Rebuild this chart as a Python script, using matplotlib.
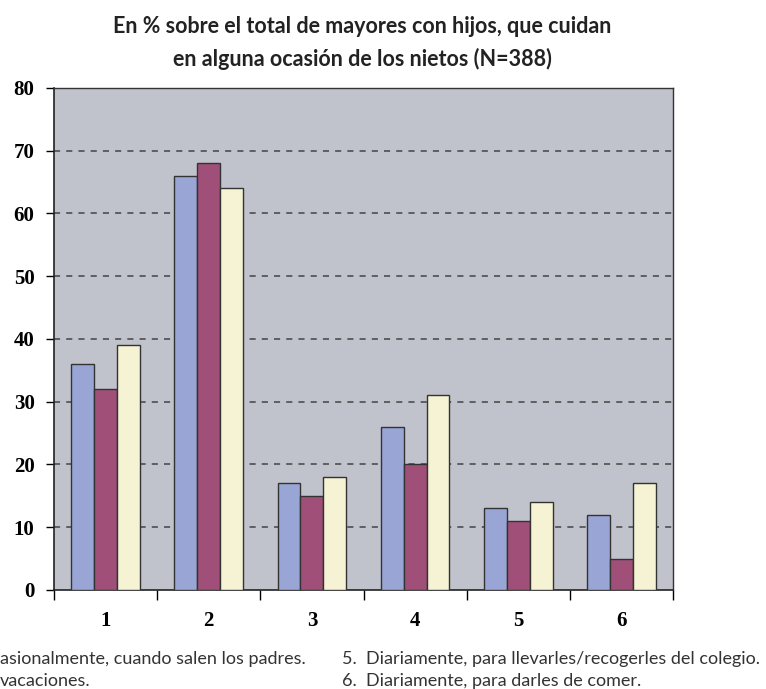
import numpy as np
import matplotlib.pyplot as plt
from matplotlib.ticker import FixedLocator

categories = ['1', '2', '3', '4', '5', '6']
serie_a = [36, 66, 17, 26, 13, 12]
serie_b = [32, 68, 15, 20, 11, 5]
serie_c = [39, 64, 18, 31, 14, 17]
yticks = [0, 10, 20, 30, 40, 50, 60, 70, 80]

title = 'En % sobre el total de mayores con hijos, que cuidan\nen alguna ocasión de los nietos (N=388)'
notes_left = ['asionalmente, cuando salen los padres.', 'vacaciones.']
notes_right = ['5.  Diariamente, para llevarles/recogerles del colegio.',
               '6.  Diariamente, para darles de comer.']

colors = ['#99a5d4', '#a05078', '#f5f3d3']
sans = ['Lato', 'DejaVu Sans']
serif = ['Liberation Serif', 'DejaVu Serif']

fig = plt.figure(figsize=(7.66, 6.89), dpi=100)
ax = fig.add_axes([0.0705, 0.1437, 0.8081, 0.7286])
ax.set_facecolor('#c0c3cb')

x = np.arange(len(categories))
w = 0.222
for i, (vals, col) in enumerate(zip([serie_a, serie_b, serie_c], colors)):
    ax.bar(x + (i - 1) * w, vals, w, color=col, edgecolor='#333333',
           linewidth=1.0, zorder=3)

ax.set_xlim(-0.5, len(categories) - 0.5)
ax.set_ylim(0, 80)
ax.set_yticks(yticks)
ax.set_yticklabels([str(v) for v in yticks], family=serif, weight='bold', fontsize=15)
ax.set_xticks(x)
ax.set_xticklabels(categories, family=serif, weight='bold', fontsize=15)
ax.xaxis.set_minor_locator(FixedLocator(np.arange(-0.5, len(categories), 1.0)))
ax.tick_params(axis='x', which='major', length=0, pad=15)
ax.tick_params(axis='x', which='minor', length=7, width=1, direction='out')
ax.tick_params(axis='y', length=6, width=1, direction='out', pad=8)

for v in yticks[1:-1]:
    ax.axhline(v, color='#444444', linestyle=(0, (4, 4)), linewidth=1.1, zorder=1)

for s in ['left', 'bottom']:
    ax.spines[s].set_color('#222222')
    ax.spines[s].set_linewidth(1.2)
for s in ['top', 'right']:
    ax.spines[s].set_color('#333333')
    ax.spines[s].set_linewidth(1.0)

fig.text(0.473, 0.937, title, ha='center', va='center', family=sans,
         weight='bold', fontsize=15.5, color='#222222', linespacing=1.6)

fig.text(0.0, 0.044, notes_left[0], ha='left', va='center', family=sans,
         fontsize=13, color='#333333')
fig.text(0.0, 0.012, notes_left[1], ha='left', va='center', family=sans,
         fontsize=13, color='#333333')
fig.text(0.447, 0.044, notes_right[0], ha='left', va='center', family=sans,
         fontsize=13, color='#333333')
fig.text(0.447, 0.012, notes_right[1], ha='left', va='center', family=sans,
         fontsize=13, color='#333333')

fig.savefig('out.png', dpi=100, facecolor='white')
